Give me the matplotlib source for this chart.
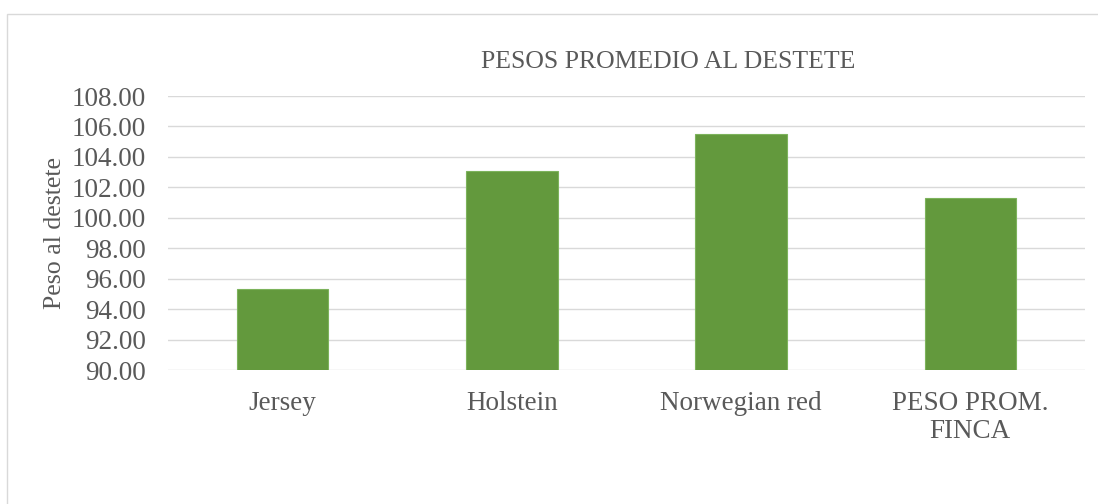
import matplotlib
matplotlib.use("Agg")
import matplotlib.pyplot as plt
from matplotlib.patches import Rectangle

categories = ["Jersey", "Holstein", "Norwegian red", "PESO PROM.\nFINCA"]
values = [95.32, 103.07, 105.50, 101.32]
yticks = [90, 92, 94, 96, 98, 100, 102, 104, 106, 108]

plt.rcParams['font.family'] = ['Liberation Serif', 'DejaVu Serif']

fig = plt.figure(figsize=(10.98, 5.04), dpi=100)
fig.patch.set_facecolor('white')
ax = fig.add_axes([168/1098, 1-370/504, (1085-168)/1098, (370-96)/504])

x = range(len(categories))
ax.bar(x, values, width=0.4, color='#63993D', edgecolor='#7DB35C', linewidth=0.8, zorder=3)
ax.set_ylim(90, 108)
ax.set_xlim(-0.5, len(categories)-0.5)
ax.set_yticks(yticks)
ax.set_yticklabels([f"{v:.2f}" for v in yticks])
ax.set_xticks(list(x))
ax.set_xticklabels(categories, linespacing=1.15)
for s in ax.spines.values():
    s.set_visible(False)
ax.grid(axis='y', color='#d9d9d9', linewidth=1.0, zorder=0)
ax.tick_params(axis='y', length=0, pad=16, labelsize=19.5, colors='#595959')
ax.tick_params(axis='x', length=0, pad=15, labelsize=19.5, colors='#595959')
ax.set_ylabel("Peso al destete", fontsize=18.6, color='#595959', labelpad=4)

fig.text(668/1098, 1-62/504, "PESOS PROMEDIO AL DESTETE", ha='center', va='center',
         fontsize=18.5, color='#595959')

fig.patches.append(Rectangle((7/1098, -0.1), 1.2, 1-14/504+0.1, transform=fig.transFigure,
                             fill=False, edgecolor='#d9d9d9', linewidth=1.0))

fig.savefig("out.png", dpi=100, facecolor='white')
